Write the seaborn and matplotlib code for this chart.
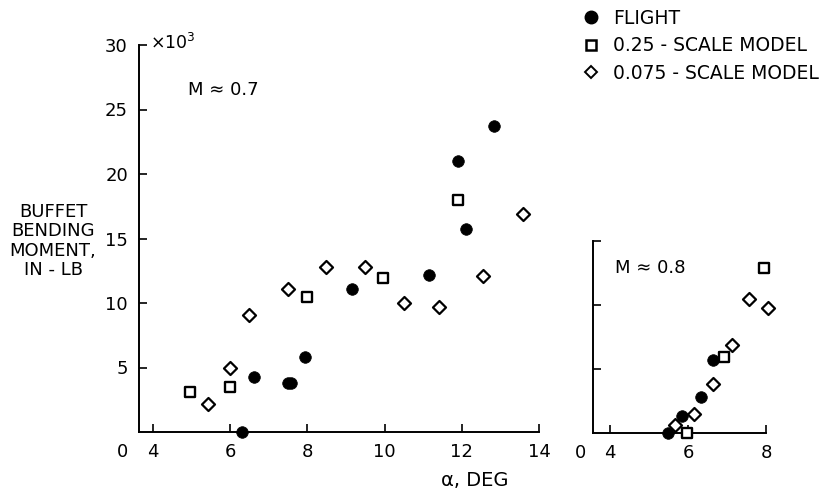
import matplotlib
matplotlib.use("Agg")
import matplotlib.pyplot as plt
from matplotlib.lines import Line2D
import pandas as pd
import seaborn as sns

# Buffet bending moment (x10^3 in-lb) vs angle of attack (deg)
# M ~ 0.7
flight_07_alpha = [6.3, 6.63, 7.5, 7.58, 7.94, 9.15, 11.14, 11.89, 12.12, 12.84]
flight_07_moment = [0.0, 4.3, 3.8, 3.8, 5.8, 11.1, 12.2, 21.0, 15.7, 23.7]
scale25_07_alpha = [4.95, 6.0, 7.99, 9.95, 11.89]
scale25_07_moment = [3.1, 3.5, 10.5, 11.9, 18.0]
scale075_07_alpha = [5.44, 6.0, 6.5, 7.5, 8.48, 9.5, 10.5, 11.42, 12.56, 13.59]
scale075_07_moment = [2.2, 5.0, 9.1, 11.05, 12.8, 12.8, 10.0, 9.7, 12.1, 16.9]

# M ~ 0.8
flight_08_alpha = [5.49, 5.85, 6.33, 6.64]
flight_08_moment = [0.0, 1.3, 2.8, 5.7]
scale25_08_alpha = [5.97, 6.92, 7.95]
scale25_08_moment = [0.0, 5.9, 12.9]
scale075_08_alpha = [5.67, 6.15, 6.64, 7.13, 7.56, 8.05]
scale075_08_moment = [0.6, 1.5, 3.8, 6.85, 10.5, 9.8]

series_labels = ["FLIGHT", "0.25 - SCALE MODEL", "0.075 - SCALE MODEL"]
left_xticks = [4, 6, 8, 10, 12, 14]
left_yticks = [5, 10, 15, 20, 25, 30]
right_xticks = [4, 6, 8]
right_yticks = [5, 10, 15]

sns.set_theme(style="ticks")
plt.rcParams["font.family"] = ["DejaVu Sans"]
plt.rcParams.update({"text.color": "black", "axes.labelcolor": "black",
                     "xtick.color": "black", "ytick.color": "black"})

fig = plt.figure(figsize=(8.32, 4.93), dpi=100)
ax1 = fig.add_axes([139 / 832, 61 / 493, 400 / 832, 387 / 493])
ax2 = fig.add_axes([593 / 832, 60 / 493, 173 / 832, 192 / 493])

styles = [
    dict(marker="o", s=70, color="black", edgecolor="black", linewidth=0.5),
    dict(marker="s", s=46, color="white", edgecolor="black", linewidth=1.7),
    dict(marker="D", s=44, color="white", edgecolor="black", linewidth=1.6),
]


def draw_panel(ax, sets):
    for (xs, ys), st, lab in zip(sets, styles, series_labels):
        df = pd.DataFrame({"alpha": xs, "moment": ys})
        sns.scatterplot(data=df, x="alpha", y="moment", ax=ax, label=lab,
                        clip_on=False, zorder=3, legend=False, **st)
    sns.despine(ax=ax)
    for side in ("left", "bottom"):
        ax.spines[side].set_linewidth(1.4)
        ax.spines[side].set_color("black")
    ax.tick_params(direction="in", length=6, width=1.2, colors="black",
                   labelsize=13, pad=8)
    ax.set_xlabel("")
    ax.set_ylabel("")
    ax.grid(False)


draw_panel(ax1, [(flight_07_alpha, flight_07_moment),
                 (scale25_07_alpha, scale25_07_moment),
                 (scale075_07_alpha, scale075_07_moment)])
draw_panel(ax2, [(flight_08_alpha, flight_08_moment),
                 (scale25_08_alpha, scale25_08_moment),
                 (scale075_08_alpha, scale075_08_moment)])

ax1.set_xlim(3.64, 14)
ax1.set_ylim(0, 30)
ax1.set_xticks(left_xticks)
ax1.set_xticklabels([str(v) for v in left_xticks])
ax1.set_yticks(left_yticks)
ax1.set_yticklabels([str(v) for v in left_yticks])

ax2.set_xlim(3.56, 8)
ax2.set_ylim(0, 15)
ax2.set_xticks(right_xticks)
ax2.set_xticklabels([str(v) for v in right_xticks])
ax2.set_yticks(right_yticks)
ax2.set_yticklabels([])

# origin labels of the broken axes
ax1.annotate("0", xy=(0, 0), xycoords="axes fraction", xytext=(-16, -20),
             textcoords="offset pixels", ha="center", va="center", fontsize=13)
ax2.annotate("0", xy=(0, 0), xycoords="axes fraction", xytext=(-13, -20),
             textcoords="offset pixels", ha="center", va="center", fontsize=13)
ax1.annotate(r"$\times10^3$", xy=(0, 1), xycoords="axes fraction", xytext=(11, 2),
             textcoords="offset pixels", ha="left", va="center", fontsize=12.5,
             math_fontfamily="dejavusans")

ax1.text(0.122, 0.885, "M \u2248 0.7", transform=ax1.transAxes, fontsize=13,
         ha="left", va="center")
ax2.text(0.13, 0.86, "M \u2248 0.8", transform=ax2.transAxes, fontsize=13,
         ha="left", va="center")

fig.text(475 / 832, 1 - 480 / 493, "\u03b1, DEG", ha="center", va="center", fontsize=14)
fig.text(53 / 832, 1 - 241 / 493, "BUFFET\nBENDING\nMOMENT,\nIN - LB",
         ha="center", va="center", fontsize=13, linespacing=1.08)

handles = [
    Line2D([], [], linestyle="none", marker="o", markersize=9,
           markerfacecolor="black", markeredgecolor="black"),
    Line2D([], [], linestyle="none", marker="s", markersize=7,
           markerfacecolor="white", markeredgecolor="black", markeredgewidth=1.8),
    Line2D([], [], linestyle="none", marker="D", markersize=6.5,
           markerfacecolor="white", markeredgecolor="black", markeredgewidth=1.4),
]
fig.legend(handles, series_labels, loc="upper left",
           bbox_to_anchor=(583 / 832, 1 - 9 / 493), frameon=False, fontsize=13.5,
           handlelength=0.9, handletextpad=0.7, borderpad=0, borderaxespad=0,
           labelspacing=0.45)

fig.savefig("out.png", dpi=100)
